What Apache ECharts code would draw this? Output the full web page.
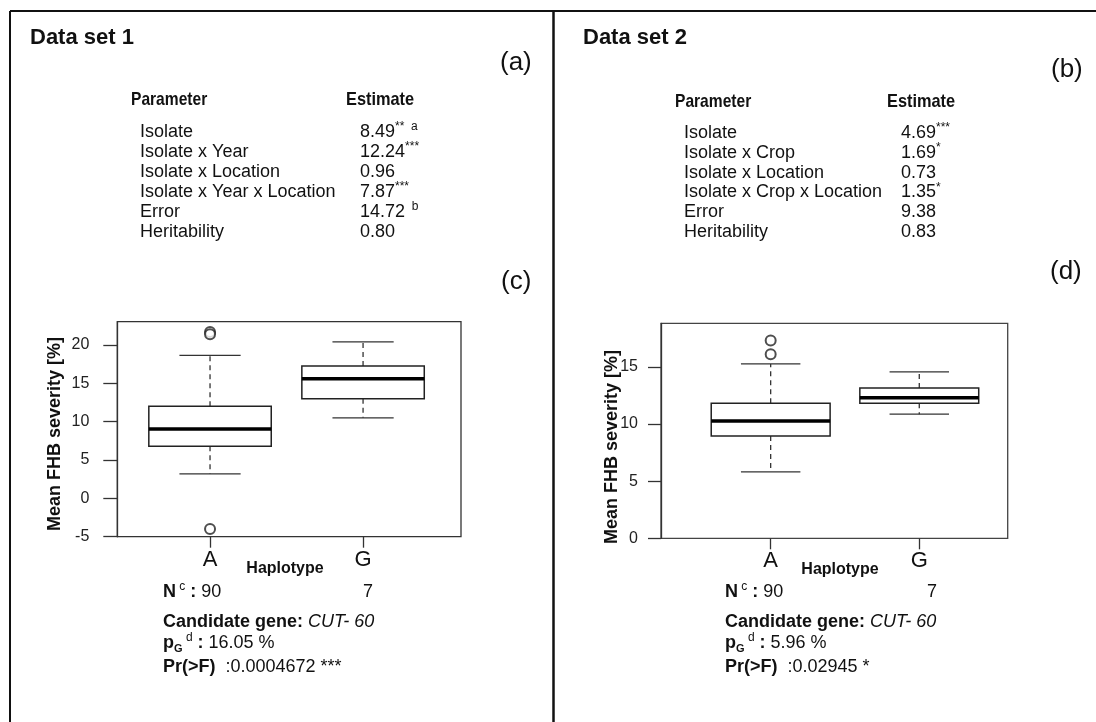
<!DOCTYPE html>
<html>
<head>
<meta charset="utf-8">
<title>Mean FHB severity by haplotype</title>
<script src="https://cdn.jsdelivr.net/npm/echarts@6/dist/echarts.min.js"></script>
<style>
    html, body { margin: 0; padding: 0; background: #fff; }
    #chart { width: 1096px; height: 722px; }
</style>
</head>
<body>
<div id="chart"></div>
<script type="text/javascript">
    // haplotype groups
    var haplotypes = ['A', 'G'];
    var groupSizes = ['90', '7'];

    // data set 1 box stats (per haplotype)
    var set1Low = [3.2, 10.5];
    var set1Q1 = [6.8, 13.0];
    var set1Median = [9.05, 15.6];
    var set1Q3 = [12.0, 17.25];
    var set1High = [18.65, 20.4];
    var set1Outliers = [[21.7, 21.4, -4.0], []];

    // data set 2 box stats (per haplotype)
    var set2Low = [5.8, 10.85];
    var set2Q1 = [8.95, 11.8];
    var set2Median = [10.25, 12.3];
    var set2Q3 = [11.8, 13.15];
    var set2High = [15.25, 14.55];
    var set2Outliers = [[17.3, 16.1], []];

    // y tick labels
    var set1Ticks = [-5, 0, 5, 10, 15, 20];
    var set2Ticks = [0, 5, 10, 15];

    // variance component tables
    var set1Params = ['Isolate', 'Isolate x Year', 'Isolate x Location', 'Isolate x Year x Location', 'Error', 'Heritability'];
    var set1Estimates = ['8.49', '12.24', '0.96', '7.87', '14.72', '0.80'];
    var set1Signif = ['**', '***', '', '***', '', ''];
    var set1Notes = ['a', '', '', '', 'b', ''];

    var set2Params = ['Isolate', 'Isolate x Crop', 'Isolate x Location', 'Isolate x Crop x Location', 'Error', 'Heritability'];
    var set2Estimates = ['4.69', '1.69', '0.73', '1.35', '9.38', '0.83'];
    var set2Signif = ['***', '*', '', '*', '', ''];
    var set2Notes = ['', '', '', '', '', ''];

    // test results under each plot
    var set1Gene = 'CUT- 60', set1Pg = '16.05 %', set1Pr = ':0.0004672 ***';
    var set2Gene = 'CUT- 60', set2Pg = '5.96 %', set2Pr = ':0.02945 *';

    var FONT = '"Liberation Sans", Arial, Helvetica, sans-serif';
    var INK = '#111';

    function boxData(low, q1, med, q3, high) {
        return haplotypes.map(function (h, i) {
            return [i + 1, low[i], q1[i], med[i], q3[i], high[i]];
        });
    }

    function outlierData(list) {
        var out = [];
        list.forEach(function (vals, i) {
            vals.forEach(function (v) { out.push([i + 1, v]); });
        });
        return out;
    }

    // R style box: dashed whiskers, half-width staples, heavy median
    function renderBox(params, api) {
        var x = api.value(0);
        var unit = api.size([1, 0])[0];
        var half = unit * 0.4, cap = unit * 0.2;
        var low = api.coord([x, api.value(1)]);
        var q1 = api.coord([x, api.value(2)]);
        var med = api.coord([x, api.value(3)]);
        var q3 = api.coord([x, api.value(4)]);
        var high = api.coord([x, api.value(5)]);
        var cx = med[0];
        var solid = { stroke: '#333', lineWidth: 1.3 };
        var dash = { stroke: '#333', lineWidth: 1.3, lineDash: [5, 4] };
        return {
            type: 'group',
            children: [
                { type: 'line', shape: { x1: cx, y1: q3[1], x2: cx, y2: high[1] }, style: dash },
                { type: 'line', shape: { x1: cx, y1: q1[1], x2: cx, y2: low[1] }, style: dash },
                { type: 'line', shape: { x1: cx - cap, y1: high[1], x2: cx + cap, y2: high[1] }, style: solid },
                { type: 'line', shape: { x1: cx - cap, y1: low[1], x2: cx + cap, y2: low[1] }, style: solid },
                { type: 'rect', shape: { x: cx - half, y: q3[1], width: 2 * half, height: q1[1] - q3[1] },
                  style: { fill: '#fff', stroke: '#222', lineWidth: 1.5 } },
                { type: 'line', shape: { x1: cx - half, y1: med[1], x2: cx + half, y2: med[1] },
                  style: { stroke: '#000', lineWidth: 3.5 } }
            ]
        };
    }

    function xAxisFor(grid, min, max) {
        return {
            type: 'value', gridIndex: grid, min: min, max: max,
            axisLine: { show: false, onZero: false },
            splitLine: { show: false },
            axisTick: { customValues: [1, 2], length: 11, lineStyle: { color: '#333', width: 1.3 } },
            axisLabel: {
                customValues: [1, 2], margin: 12, fontSize: 22, color: INK, fontFamily: FONT,
                formatter: function (v) { return haplotypes[Math.round(v) - 1]; }
            }
        };
    }

    function yAxisFor(grid, min, max, ticks, margin, tickLen) {
        return {
            type: 'value', gridIndex: grid, min: min, max: max,
            splitLine: { show: false },
            axisLine: { show: true, lineStyle: { color: '#333', width: 1.3 } },
            axisTick: { customValues: ticks, length: tickLen, lineStyle: { color: '#333', width: 1.3 } },
            axisLabel: { customValues: ticks, margin: margin, fontSize: 16, color: '#222', fontFamily: FONT }
        };
    }

    // ---- text helpers ----
    var rich = {
        b: { fontFamily: FONT, fontSize: 18, fontWeight: 'bold', fill: INK, lineHeight: 22 },
        r: { fontFamily: FONT, fontSize: 18, fill: INK, lineHeight: 22 },
        i: { fontFamily: FONT, fontSize: 18, fontStyle: 'italic', fill: INK, lineHeight: 22 },
        sup: { fontFamily: FONT, fontSize: 12, fill: INK, verticalAlign: 'top', lineHeight: 12 },
        hi: { fontFamily: FONT, fontSize: 12, fill: INK, verticalAlign: 'top', lineHeight: 12, padding: [0, 0, 5, 0] },
        sub: { fontFamily: FONT, fontSize: 11, fontWeight: 'bold', fill: INK, verticalAlign: 'bottom', lineHeight: 12 }
    };

    function txt(x, y, text, opts) {
        opts = opts || {};
        return {
            type: 'text', x: x, y: y, rotation: opts.rotation || 0, z: 10,
            scaleX: opts.scaleX || 1,
            style: {
                text: text, rich: rich,
                font: opts.font || ('18px ' + FONT),
                fill: INK,
                align: opts.align || 'left',
                verticalAlign: 'middle'
            }
        };
    }

    function table(xName, xVal, yHead, yRow0, step, params, est, sig, notes) {
        var g = [
            txt(xName - 9, yHead, 'Parameter', { font: 'bold 19px ' + FONT, scaleX: 0.82 }),
            txt(xVal - 14, yHead, 'Estimate', { font: 'bold 19px ' + FONT, scaleX: 0.86 })
        ];
        params.forEach(function (p, i) {
            var y = yRow0 + i * step;
            g.push(txt(xName, y, p));
            var s = '{r|' + est[i] + '}';
            if (sig[i]) s += '{sup|' + sig[i] + '}';
            if (notes[i]) s += '{hi|  ' + notes[i] + '}';
            g.push(txt(xVal, y, s));
        });
        return g;
    }

    function footer(x, x7, gene, pg, pr) {
        return [
            txt(x, 592, '{b|N}{sup| c}{b| : }{r|' + groupSizes[0] + '}'),
            txt(x7, 592, groupSizes[1]),
            txt(x, 622, '{b|Candidate gene: }{i|' + gene + '}'),
            txt(x, 643, '{b|p}{sub|G}{sup| d}{b| : }{r|' + pg + '}'),
            txt(x, 667, '{b|Pr(>F)}{r|  ' + pr + '}')
        ];
    }

    var graphics = [
        // panel frame
        { type: 'line', shape: { x1: 10, y1: 11, x2: 1096, y2: 11 }, style: { stroke: INK, lineWidth: 2 } },
        { type: 'line', shape: { x1: 10, y1: 11, x2: 10, y2: 722 }, style: { stroke: INK, lineWidth: 2 } },
        { type: 'line', shape: { x1: 553.5, y1: 11, x2: 553.5, y2: 722 }, style: { stroke: INK, lineWidth: 2.5 } },

        txt(30, 38, 'Data set 1', { font: 'bold 22px ' + FONT }),
        txt(583, 38, 'Data set 2', { font: 'bold 22px ' + FONT }),
        txt(500, 63, '(a)', { font: '26px ' + FONT }),
        txt(1051, 70, '(b)', { font: '26px ' + FONT }),
        txt(501, 282, '(c)', { font: '26px ' + FONT }),
        txt(1050, 272, '(d)', { font: '26px ' + FONT }),

        txt(55, 434, 'Mean FHB severity [%]', { font: 'bold 18px ' + FONT, align: 'center', rotation: Math.PI / 2 }),
        txt(612, 447, 'Mean FHB severity [%]', { font: 'bold 18px ' + FONT, align: 'center', rotation: Math.PI / 2 }),
        txt(285, 569, 'Haplotype', { font: 'bold 16px ' + FONT, align: 'center' }),
        txt(840, 570, 'Haplotype', { font: 'bold 16px ' + FONT, align: 'center' })
    ]
    .concat(table(140, 360, 100, 132, 20, set1Params, set1Estimates, set1Signif, set1Notes))
    .concat(table(684, 901, 102, 133, 19.8, set2Params, set2Estimates, set2Signif, set2Notes))
    .concat(footer(163, 363, set1Gene, set1Pg, set1Pr))
    .concat(footer(725, 927, set2Gene, set2Pg, set2Pr));

    var chart = echarts.init(document.getElementById('chart'), null, { renderer: 'canvas' });

    var option = {
        animation: false,
        backgroundColor: '#fff',
        grid: [
            { left: 117.3, top: 321.7, width: 343.7, height: 215, show: true, borderColor: '#333', borderWidth: 1.3,
              containLabel: false, outerBoundsMode: 'none' },
            { left: 661, top: 323.3, width: 346.7, height: 215, show: true, borderColor: '#444', borderWidth: 1.3,
              containLabel: false, outerBoundsMode: 'none' }
        ],
        xAxis: [
            xAxisFor(0, 0.394, 2.64),
            xAxisFor(1, 0.262, 2.595)
        ],
        yAxis: [
            yAxisFor(0, -5, 23.04, set1Ticks, 28, 14),
            yAxisFor(1, 0, 18.8, set2Ticks, 23, 13)
        ],
        series: [
            {
                name: 'Data set 1', type: 'custom', xAxisIndex: 0, yAxisIndex: 0,
                renderItem: renderBox, encode: { x: 0, y: [1, 2, 3, 4, 5] },
                data: boxData(set1Low, set1Q1, set1Median, set1Q3, set1High)
            },
            {
                name: 'Data set 1 outliers', type: 'scatter', xAxisIndex: 0, yAxisIndex: 0,
                symbol: 'emptyCircle', symbolSize: 10,
                itemStyle: { color: '#222', borderWidth: 1.3 },
                data: outlierData(set1Outliers)
            },
            {
                name: 'Data set 2', type: 'custom', xAxisIndex: 1, yAxisIndex: 1,
                renderItem: renderBox, encode: { x: 0, y: [1, 2, 3, 4, 5] },
                data: boxData(set2Low, set2Q1, set2Median, set2Q3, set2High)
            },
            {
                name: 'Data set 2 outliers', type: 'scatter', xAxisIndex: 1, yAxisIndex: 1,
                symbol: 'emptyCircle', symbolSize: 10,
                itemStyle: { color: '#222', borderWidth: 1.3 },
                data: outlierData(set2Outliers)
            }
        ],
        graphic: graphics
    };

    chart.setOption(option);
</script>
</body>
</html>
